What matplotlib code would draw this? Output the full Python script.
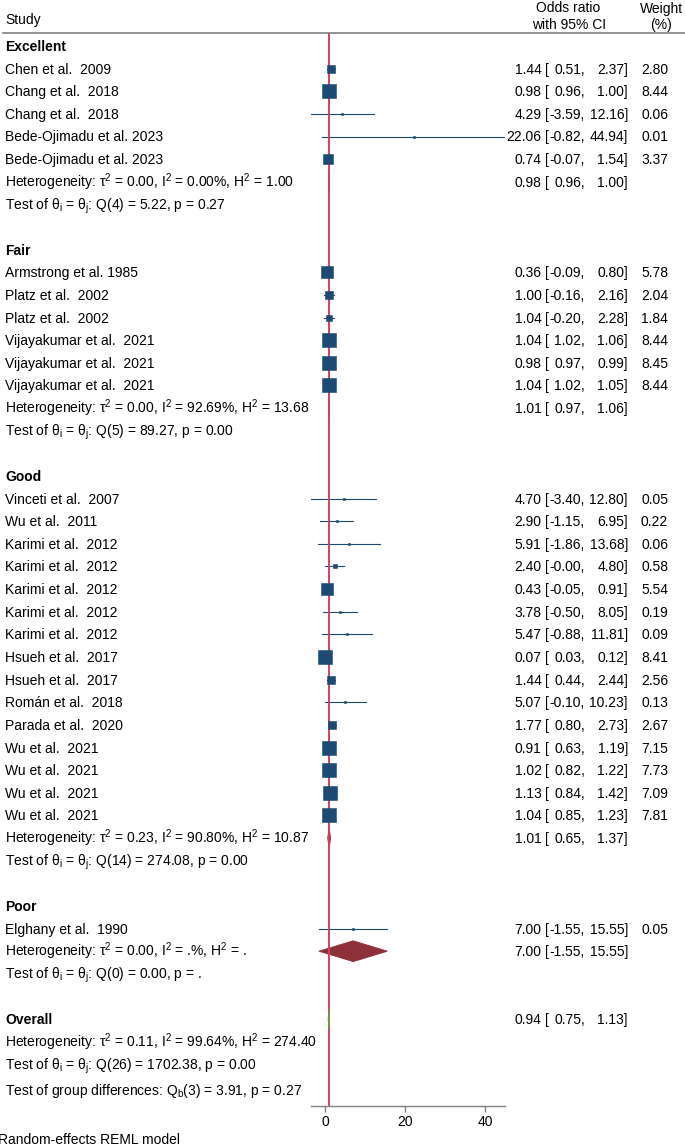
import matplotlib
matplotlib.use('Agg')
import matplotlib.pyplot as plt
from matplotlib.lines import Line2D
from matplotlib.patches import Polygon
from matplotlib.transforms import blended_transform_factory
import numpy as np

# fonts: Arial-like with mathtext in the same face
plt.rcParams['font.family'] = 'Liberation Sans'
plt.rcParams['font.size'] = 10
plt.rcParams['mathtext.fontset'] = 'custom'
plt.rcParams['mathtext.rm'] = 'Liberation Sans'
plt.rcParams['mathtext.it'] = 'Liberation Sans:italic'
plt.rcParams['mathtext.bf'] = 'Liberation Sans:bold'

#### Data ####
groups = ['Excellent', 'Fair', 'Good', 'Poor']

study = ['Chen et al.  2009', 'Chang et al.  2018', 'Chang et al.  2018',
         'Bede-Ojimadu et al. 2023', 'Bede-Ojimadu et al. 2023',
         'Armstrong et al. 1985', 'Platz et al.  2002', 'Platz et al.  2002',
         'Vijayakumar et al.  2021', 'Vijayakumar et al.  2021', 'Vijayakumar et al.  2021',
         'Vinceti et al.  2007', 'Wu et al.  2011', 'Karimi et al.  2012',
         'Karimi et al.  2012', 'Karimi et al.  2012', 'Karimi et al.  2012',
         'Karimi et al.  2012', 'Hsueh et al.  2017', 'Hsueh et al.  2017',
         'Román et al.  2018', 'Parada et al.  2020', 'Wu et al.  2021',
         'Wu et al.  2021', 'Wu et al.  2021', 'Wu et al.  2021',
         'Elghany et al.  1990']
group_of = [0] * 5 + [1] * 6 + [2] * 15 + [3] * 1
est = [1.44, 0.98, 4.29, 22.06, 0.74,
       0.36, 1.00, 1.04, 1.04, 0.98, 1.04,
       4.70, 2.90, 5.91, 2.40, 0.43, 3.78, 5.47, 0.07, 1.44, 5.07, 1.77,
       0.91, 1.02, 1.13, 1.04,
       7.00]
lo = [0.51, 0.96, -3.59, -0.82, -0.07,
      -0.09, -0.16, -0.20, 1.02, 0.97, 1.02,
      -3.40, -1.15, -1.86, -0.0, -0.05, -0.50, -0.88, 0.03, 0.44, -0.10, 0.80,
      0.63, 0.82, 0.84, 0.85,
      -1.55]
hi = [2.37, 1.00, 12.16, 44.94, 1.54,
      0.80, 2.16, 2.28, 1.06, 0.99, 1.05,
      12.80, 6.95, 13.68, 4.80, 0.91, 8.05, 11.81, 0.12, 2.44, 10.23, 2.73,
      1.19, 1.22, 1.42, 1.23,
      15.55]
weight = [2.80, 8.44, 0.06, 0.01, 3.37,
          5.78, 2.04, 1.84, 8.44, 8.45, 8.44,
          0.05, 0.22, 0.06, 0.58, 5.54, 0.19, 0.09, 8.41, 2.56, 0.13, 2.67,
          7.15, 7.73, 7.09, 7.81,
          0.05]

grp_est = [0.98, 1.01, 1.01, 7.00]
grp_lo = [0.96, 0.97, 0.65, -1.55]
grp_hi = [1.00, 1.06, 1.37, 15.55]
grp_het = ['τ$^2$ = 0.00, I$^2$ = 0.00%, H$^2$ = 1.00',
           'τ$^2$ = 0.00, I$^2$ = 92.69%, H$^2$ = 13.68',
           'τ$^2$ = 0.23, I$^2$ = 90.80%, H$^2$ = 10.87',
           'τ$^2$ = 0.00, I$^2$ = .%, H$^2$ = .']
grp_q = ['Q(4) = 5.22, p = 0.27', 'Q(5) = 89.27, p = 0.00',
         'Q(14) = 274.08, p = 0.00', 'Q(0) = 0.00, p = .']

overall_est, overall_lo, overall_hi = 0.94, 0.75, 1.13
overall_het = 'τ$^2$ = 0.11, I$^2$ = 99.64%, H$^2$ = 274.40'
overall_q = 'Q(26) = 1702.38, p = 0.00'
group_diff = 'Q$_\\mathrm{b}$(3) = 3.91, p = 0.27'

#### Styling ####
W, H = 685, 1147
navy = '#1c4a72'
redline = '#d5405e'
dred = '#8e3039'
green = '#6a9c3c'
grey = '#808080'

fig = plt.figure(figsize=(W / 100, H / 100), dpi=100)

# forest axes: pixel geometry
ax_l, ax_r, ax_t, ax_b = 310.7, 505.3, 33.0, 1105.7
row0, step = 46.0, 22.63
ax = fig.add_axes([ax_l / W, (H - ax_b) / H, (ax_r - ax_l) / W, (ax_b - ax_t) / H])
ax.set_xlim(-3.59, 44.94)
ax.set_ylim((ax_b - row0) / step, (ax_t - row0) / step)

tr = blended_transform_factory(fig.transFigure, ax.transData)
base = 0.22  # baseline offset (rows) so text is visually centred on the row


def txt(xpx, r, s, **kw):
    ax.text(xpx / W, r + base, s, transform=tr, va='baseline', clip_on=False, **kw)


def ci_cols(r, e, l, h, w=None):
    txt(541.5, r, f'{e:.2f}', ha='right')
    txt(545.5, r, '[', ha='left')
    txt(585.0, r, f'{l:.2f},', ha='right')
    txt(628.0, r, f'{h:.2f}]', ha='right')
    if w is not None:
        txt(668.0, r, f'{w:.2f}', ha='right')


def diamond(r, e, l, h, color, z):
    hh = 0.46
    ax.add_patch(Polygon([[l, r], [e, r - hh], [h, r], [e, r + hh]], closed=True,
                         facecolor=color, edgecolor=color, lw=0.6, zorder=z))


ax.axvline(1, color=redline, lw=1.4, zorder=2)

r = 0
for g, gname in enumerate(groups):
    txt(5, r, gname, ha='left', fontweight='bold')
    r += 1
    for i in range(len(study)):
        if group_of[i] != g:
            continue
        txt(5, r, study[i], ha='left')
        ax.plot([lo[i], hi[i]], [r, r], color=navy, lw=0.8, zorder=1)
        side = max(14.3 * np.sqrt(weight[i] / 8.45), 2.0)
        ax.plot(est[i], r, marker='s', ms=side * 0.72, color=navy,
                mec=navy, mew=0.4, zorder=3)
        ci_cols(r, est[i], lo[i], hi[i], weight[i])
        r += 1
    txt(5, r, 'Heterogeneity: ' + grp_het[g], ha='left')
    diamond(r, grp_est[g], grp_lo[g], grp_hi[g], dred, 1.5)
    ci_cols(r, grp_est[g], grp_lo[g], grp_hi[g])
    r += 1
    txt(5, r, 'Test of θ$_\\mathrm{i}$ = θ$_\\mathrm{j}$: ' + grp_q[g], ha='left')
    r += 2

txt(5, r, 'Overall', ha='left', fontweight='bold')
diamond(r, overall_est, overall_lo, overall_hi, green, 3)
ci_cols(r, overall_est, overall_lo, overall_hi)
txt(5, r + 1, 'Heterogeneity: ' + overall_het, ha='left')
txt(5, r + 2, 'Test of θ$_\\mathrm{i}$ = θ$_\\mathrm{j}$: ' + overall_q, ha='left')
txt(5, r + 3.15, 'Test of group differences: ' + group_diff, ha='left')

# axis styling
for s in ['top', 'left', 'right']:
    ax.spines[s].set_visible(False)
ax.spines['bottom'].set_color(grey)
ax.spines['bottom'].set_linewidth(1.0)
ax.set_yticks([])
ax.set_xticks([0, 20, 40])
ax.tick_params(axis='x', length=4, width=1.0, color=grey, pad=3, labelsize=10)
ax.patch.set_visible(False)

# header
fig.text(5 / W, 1 - 24 / H, 'Study', ha='left', va='baseline')
fig.text(568 / W, 1 - 12.5 / H, 'Odds ratio', ha='center', va='baseline')
fig.text(569 / W, 1 - 29 / H, 'with 95% CI', ha='center', va='baseline')
fig.text(662 / W, 1 - 12.5 / H, 'Weight', ha='center', va='baseline')
fig.text(661 / W, 1 - 29 / H, '(%)', ha='center', va='baseline')
fig.add_artist(Line2D([3 / W, 1.0], [1 - 33 / H, 1 - 33 / H], color=grey, lw=1.2))

fig.text(-2 / W, 1 - 1144 / H, 'Random-effects REML model', ha='left', va='baseline')

fig.savefig('out.png', dpi=100)
